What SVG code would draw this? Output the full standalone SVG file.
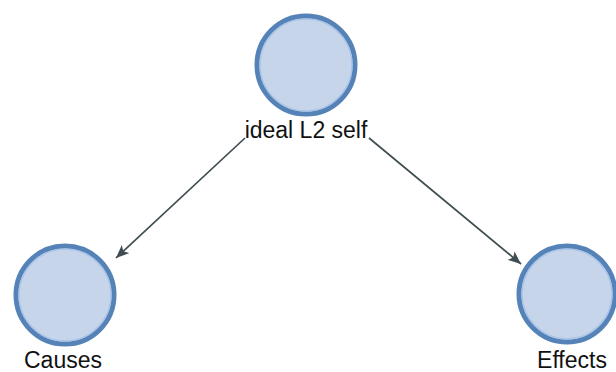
<svg xmlns="http://www.w3.org/2000/svg" width="616" height="372" viewBox="0 0 616 372">
<style>
.node{fill:#c6d5ea;stroke:#5583b8;stroke-width:5}
.inner{fill:none;stroke:#a8c4e8;stroke-width:1.5}
.lbl{font-family:"Liberation Sans",Arial,sans-serif;font-size:23px;fill:#111111;text-anchor:middle}
.edge{stroke:#3f4d50;stroke-width:1.7;fill:none}
</style>
<defs>
<marker id="ah" viewBox="0 0 13 11" refX="13" refY="5.5" markerWidth="13" markerHeight="11" markerUnits="userSpaceOnUse" orient="auto">
<path d="M0,0 L13,5.5 L0,11 L3,5.5 Z" fill="#3f4d50"/>
</marker>
</defs>
<rect width="616" height="372" fill="#ffffff"/>
<g id="connectors">
<line class="edge" x1="245" y1="138" x2="116" y2="258" marker-end="url(#ah)"/>
<line class="edge" x1="369" y1="138" x2="521" y2="264" marker-end="url(#ah)"/>
</g>
<g id="node-ideal">
<circle class="node" cx="306" cy="65" r="49"/>
<circle class="inner" cx="306" cy="65" r="46"/>
<text class="lbl" x="306" y="138">ideal L2 self</text>
</g>
<g id="node-causes">
<circle class="node" cx="65" cy="295" r="49"/>
<circle class="inner" cx="65" cy="295" r="46"/>
<text class="lbl" x="63" y="368">Causes</text>
</g>
<g id="node-effects">
<circle class="node" cx="567" cy="294" r="48"/>
<circle class="inner" cx="567" cy="294" r="45"/>
<text class="lbl" x="572" y="368">Effects</text>
</g>
</svg>
